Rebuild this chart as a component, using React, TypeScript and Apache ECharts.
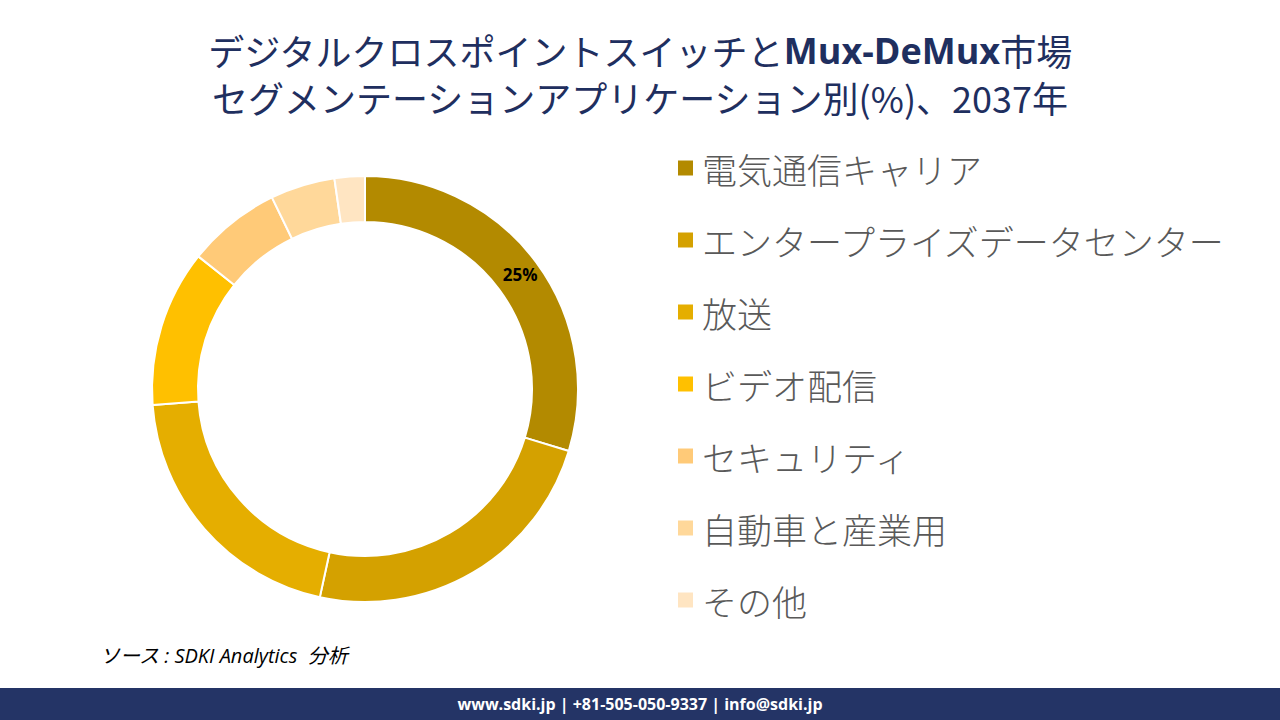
import React, { useEffect, useRef } from "react";
import * as echarts from "echarts";

const categories = [
  "電気通信キャリア",
  "エンタープライズデータセンター",
  "放送",
  "ビデオ配信",
  "セキュリティ",
  "自動車と産業用",
  "その他",
];
const values = [29.7, 23.7, 20.4, 11.9, 7.1, 4.9, 2.3];
const sliceLabels = ["25%", "", "", "", "", "", ""];
const colors = ["#B38A00", "#D4A100", "#E5AE00", "#FFC000", "#FFCA78", "#FFD89A", "#FFE5C2"];

const titleLine1 = "デジタルクロスポイントスイッチと{b|Mux-DeMux}市場";
const titleLine2 = "セグメンテーションアプリケーション別(%)、2037年";
const sourceText = "ソース : SDKI Analytics  分析";
const footerText = "www.sdki.jp | +81-505-050-9337 | info@sdki.jp";

export default function App() {
  const ref = useRef<HTMLDivElement>(null);
  useEffect(() => {
    if (!ref.current) return;
    const chart = echarts.init(ref.current, null, { renderer: "svg" });
    const cjk = "'Noto Sans CJK JP', 'Noto Sans', sans-serif";
    const titleStyle = {
      fontFamily: cjk,
      fontSize: 36,
      lineHeight: 38,
      fill: "#1F2F5F",
      align: "center",
      verticalAlign: "middle",
      rich: {
        b: {
          fontFamily: "'Open Sans', 'Noto Sans', sans-serif",
          fontSize: 36,
          lineHeight: 38,
          fontWeight: "bold",
          fill: "#1F2F5F",
        },
      },
    };
    chart.setOption({
      animation: false,
      backgroundColor: "#ffffff",
      legend: {
        orient: "vertical",
        left: 673,
        top: 143,
        icon: "rect",
        itemWidth: 15,
        itemHeight: 15,
        itemGap: 32,
        itemStyle: { borderWidth: 0 },
        textStyle: {
          fontFamily: cjk,
          fontSize: 35,
          fontWeight: 300,
          lineHeight: 40,
          color: "#595959",
          padding: [0, 0, 0, 4],
        },
        data: categories,
      },
      series: [
        {
          type: "pie",
          center: [365, 389],
          radius: [167, 213],
          startAngle: 90,
          clockwise: true,
          avoidLabelOverlap: false,
          itemStyle: { borderColor: "#ffffff", borderWidth: 2 },
          label: {
            show: true,
            position: "inside",
            formatter: (p: any) => sliceLabels[p.dataIndex],
            fontFamily: "'Open Sans', sans-serif",
            fontWeight: "bold",
            fontSize: 17,
            color: "#000000",
          },
          labelLine: { show: false },
          emphasis: { disabled: true },
          data: categories.map((c, i) => ({
            name: c,
            value: values[i],
            itemStyle: { color: colors[i] },
          })),
        },
      ],
      graphic: [
        {
          type: "text",
          x: 640,
          y: 50,
          style: { ...titleStyle, text: titleLine1 },
        },
        {
          type: "text",
          x: 640,
          y: 97,
          style: { ...titleStyle, text: titleLine2 },
        },
        {
          type: "text",
          left: 100,
          top: 645,
          style: {
            text: sourceText,
            font: "italic 20px 'Open Sans', 'Noto Sans CJK JP', sans-serif",
            fill: "#000000",
          },
        },
        {
          type: "rect",
          shape: { x: 0, y: 688, width: 1280, height: 32 },
          style: { fill: "#243466" },
        },
        {
          type: "text",
          x: 640,
          y: 704,
          style: {
            text: footerText,
            font: "bold 16px 'Open Sans', sans-serif",
            fill: "#ffffff",
            align: "center",
            verticalAlign: "middle",
          },
        },
      ],
    });
    return () => chart.dispose();
  }, []);
  return (
    <div
      ref={ref}
      style={{ position: "absolute", left: 0, top: 0, width: 1280, height: 720 }}
    />
  );
}
